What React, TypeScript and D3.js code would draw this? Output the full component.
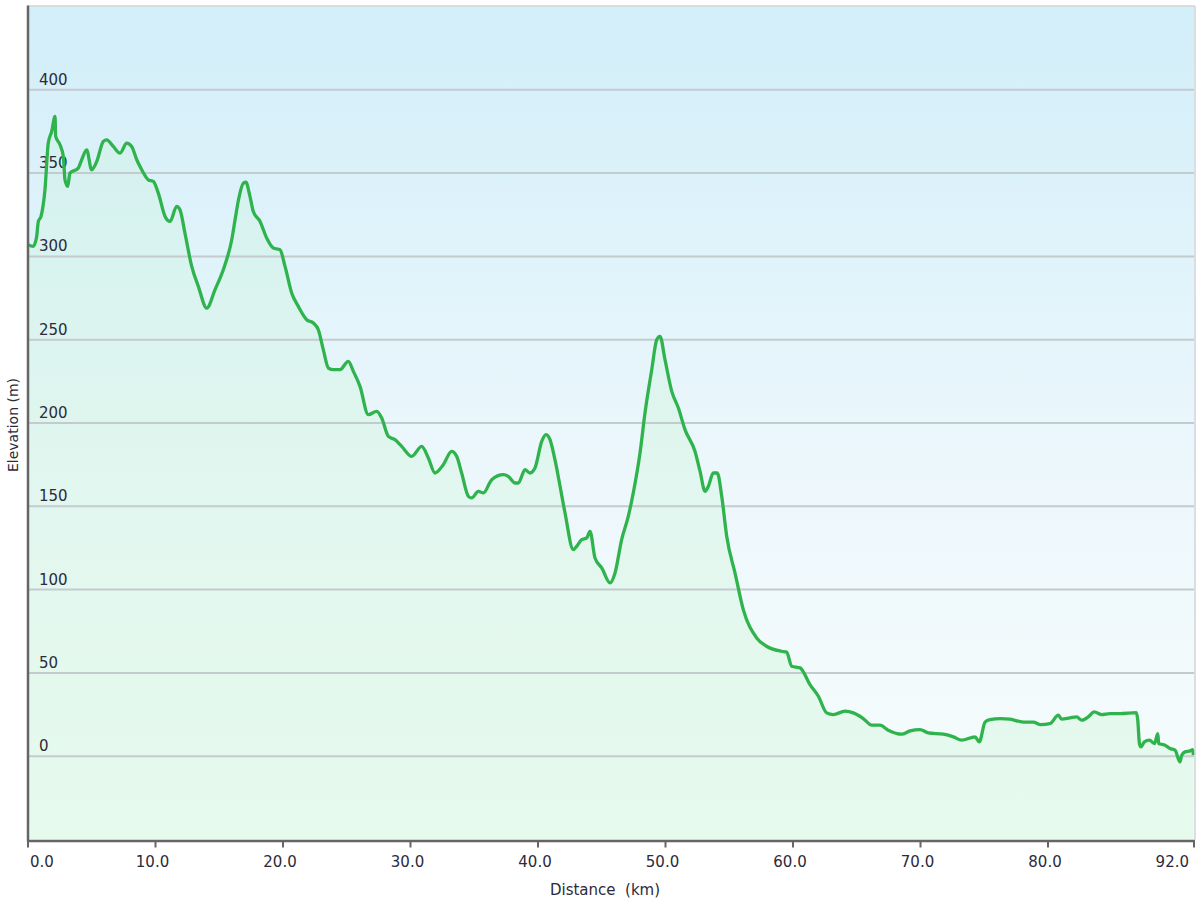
import React from "react";
import * as d3 from "d3";

const distanceKm = [
  0.0, 0.41, 0.68, 0.81, 1.02, 1.33, 1.59, 1.86, 2.12, 2.17, 2.51, 2.77, 2.9, 3.11, 3.29, 3.94, 4.21, 4.6, 4.99, 5.39,
  5.91, 6.17, 6.69, 7.22, 7.74, 8.13, 8.53, 8.92, 9.44, 9.83, 10.22, 10.75, 11.14, 11.66, 11.92, 12.31, 12.84, 13.36,
  14.02, 14.67, 15.45, 15.98, 16.24, 16.51, 16.89, 17.09, 17.41, 17.67, 18.2, 18.72, 19.24, 19.76, 20.16, 20.68, 21.2,
  21.86, 22.38, 22.77, 23.16, 23.56, 23.95, 24.47, 25.12, 25.52, 26.04, 26.69, 27.35, 27.74, 28.26, 28.78, 29.31,
  30.09, 30.88, 31.4, 31.92, 32.57, 33.23, 33.62, 34.01, 34.54, 34.8, 35.32, 35.71, 36.37, 37.28, 37.67, 38.2, 38.46,
  38.98, 39.37, 39.76, 40.29, 40.63, 40.94, 41.33, 41.73, 42.12, 42.77, 43.03, 43.43, 43.82, 44.08, 44.47, 45.0,
  45.65, 46.04, 46.56, 47.08, 47.47, 48.0, 48.39, 48.92, 49.31, 49.57, 49.96, 50.49, 51.01, 51.53, 52.31, 52.71,
  53.1, 53.36, 53.75, 54.06, 54.41, 54.8, 55.45, 56.1, 57.15, 57.92, 59.1, 59.5, 59.9, 60.55, 61.33, 61.99, 62.64,
  63.16, 64.08, 64.73, 65.51, 66.17, 66.82, 67.47, 68.52, 69.18, 69.96, 70.61, 71.79, 72.58, 73.23, 74.27, 74.61,
  75.06, 75.45, 76.24, 77.02, 78.07, 78.85, 79.37, 80.16, 80.81, 81.07, 81.73, 82.25, 82.64, 83.16, 83.63, 84.21,
  84.86, 85.65, 86.92, 87.04, 87.17, 87.29, 87.56, 87.95, 88.35, 88.61, 88.68, 89.18, 89.57, 89.96, 90.35, 90.49,
  90.75, 91.14, 91.35, 91.4,
];

const elevationM = [
  307, 306, 312, 321, 324, 340, 368, 375, 384, 372, 367, 360, 346, 342, 350, 353, 358, 364, 352, 357,
  369, 370, 366, 362, 368, 366, 358, 352, 346, 345, 338, 324, 321, 330, 328, 314, 294, 282,
  269, 280, 295, 310, 322, 334, 344, 344.5, 336, 327, 321, 311, 305, 304, 294, 278, 270,
  262, 260, 256, 244, 233, 232, 232, 237, 231, 222, 205, 207, 203, 192, 190, 186,
  180, 186, 179, 170, 175, 183, 180, 170, 156, 155, 159, 158, 166, 169, 168, 164, 164,
  172, 170, 173, 189, 193, 190, 178, 162, 146, 124, 126, 130, 131, 135, 119, 113,
  104, 110, 130, 144, 158, 182, 206, 232, 250, 252, 238, 219, 209, 196, 183, 171,
  159, 162, 170, 170, 156, 132, 110, 88, 71, 66, 63, 62.5, 54, 53, 43, 36, 26,
  25, 27, 26, 22.6, 18.6, 18.6, 15.6, 13.2, 15.2, 16, 14, 13.2, 11.6, 9.6, 11.6, 8.6,
  20.5, 22, 22.6, 22.2, 20.5, 20.5, 19, 19.6, 24.6, 22.2, 23, 23.6, 21.6, 23.6, 26.6, 25,
  25.6, 25.6, 26.2, 21.6, 7.6, 5.6, 8.6, 9.6, 7.6, 13.6, 7.6, 6.6, 4.6, 3.6, -3.4, 0.6,
  2.6, 3.2, 4, 0.6,
];

const yTicks = [0, 50, 100, 150, 200, 250, 300, 350, 400];
const xTicks = [0, 10, 20, 30, 40, 50, 60, 70, 80];
const xEndLabel = "92.0";
const xTitle = "Distance  (km)";
const yTitle = "Elevation (m)";

export default function App() {
  const W = 1200;
  const H = 900;
  const left = 28;
  const right = 1194;
  const top = 6.5;
  const bottom = 839.5;
  const xMax = 91.45;

  const x = d3.scaleLinear().domain([0, xMax]).range([left, right]);
  const y = d3.scaleLinear().domain([-50, 450]).range([bottom, top]);

  const data = distanceKm.map((d, i) => ({ d, e: elevationM[i] }));

  const line = d3
    .line<{ d: number; e: number }>()
    .x((p) => x(p.d))
    .y((p) => y(p.e))
    .curve(d3.curveMonotoneX);
  const area = d3
    .area<{ d: number; e: number }>()
    .x((p) => x(p.d))
    .y0(y(-50))
    .y1((p) => y(p.e))
    .curve(d3.curveMonotoneX);

  const font = "'DejaVu Sans', Verdana, sans-serif";
  const textColor = "#2b2b3a";

  return (
    <div style={{ position: "fixed", left: 0, top: 0, width: W, height: H, background: "#fff" }}>
      <svg width={W} height={H} style={{ display: "block" }}>
        <defs>
          <linearGradient id="bg" x1="0" y1="0" x2="0" y2="1">
            <stop offset="0%" stopColor="#d2eef9" />
            <stop offset="60%" stopColor="#eef8fc" />
            <stop offset="100%" stopColor="#f6fcfb" />
          </linearGradient>
          <linearGradient id="areaFill" x1="0" y1="0" x2="0" y2="1">
            <stop offset="0%" stopColor="#c8f2d8" stopOpacity={0.3} />
            <stop offset="100%" stopColor="#d6f7df" stopOpacity={0.5} />
          </linearGradient>
        </defs>
        <rect x={left} y={top} width={right - left} height={bottom - top} fill="url(#bg)" />
        <path d={area(data) || ""} fill="url(#areaFill)" />
        {yTicks.map((t) => (
          <line key={"g" + t} x1={left} x2={right} y1={y(t)} y2={y(t)} stroke="#c3cbcf" strokeWidth={2} />
        ))}
        {yTicks.map((t) => (
          <text key={"yl" + t} x={39} y={y(t) - 5} fontFamily={font} fontSize={15} fill={textColor}>
            {t}
          </text>
        ))}
        <path d={line(data) || ""} fill="none" stroke="#2fb34d" strokeWidth={3.3} strokeLinejoin="round" />
        {/* frame */}
        <line x1={left} x2={right + 1} y1={top - 0.5} y2={top - 0.5} stroke="#cfd3d6" strokeWidth={1.5} />
        <line x1={right + 1} x2={right + 1} y1={top - 0.5} y2={bottom} stroke="#cfd3d6" strokeWidth={1.5} />
        <line x1={left} x2={left} y1={top - 1} y2={bottom + 2} stroke="#666" strokeWidth={2.5} />
        <line x1={left - 1} x2={right + 1} y1={bottom + 1.5} y2={bottom + 1.5} stroke="#666" strokeWidth={2.5} />
        {xTicks.map((t) => (
          <line key={"xt" + t} x1={x(t)} x2={x(t)} y1={bottom + 1.5} y2={bottom + 8} stroke="#666" strokeWidth={2} />
        ))}
        <line x1={x(xMax)} x2={x(xMax)} y1={bottom + 1.5} y2={bottom + 8} stroke="#666" strokeWidth={2} />
        {xTicks.map((t, i) => (
          <text
            key={"xl" + t}
            x={i === 0 ? x(t) + 2 : x(t) - 3}
            y={867}
            textAnchor={i === 0 ? "start" : "middle"}
            fontFamily={font}
            fontSize={15}
            fill={textColor}
          >
            {d3.format(".1f")(t)}
          </text>
        ))}
        <text x={x(xMax) - 5} y={867} textAnchor="end" fontFamily={font} fontSize={15} fill={textColor}>
          {xEndLabel}
        </text>
        <text
          x={605}
          y={895}
          textAnchor="middle"
          fontFamily={font}
          fontSize={15}
          fill={textColor}
          style={{ whiteSpace: "pre" }}
        >
          {xTitle}
        </text>
        <text
          transform={`translate(18,${425}) rotate(-90)`}
          textAnchor="middle"
          fontFamily={font}
          fontSize={14}
          fill={textColor}
        >
          {yTitle}
        </text>
      </svg>
    </div>
  );
}
